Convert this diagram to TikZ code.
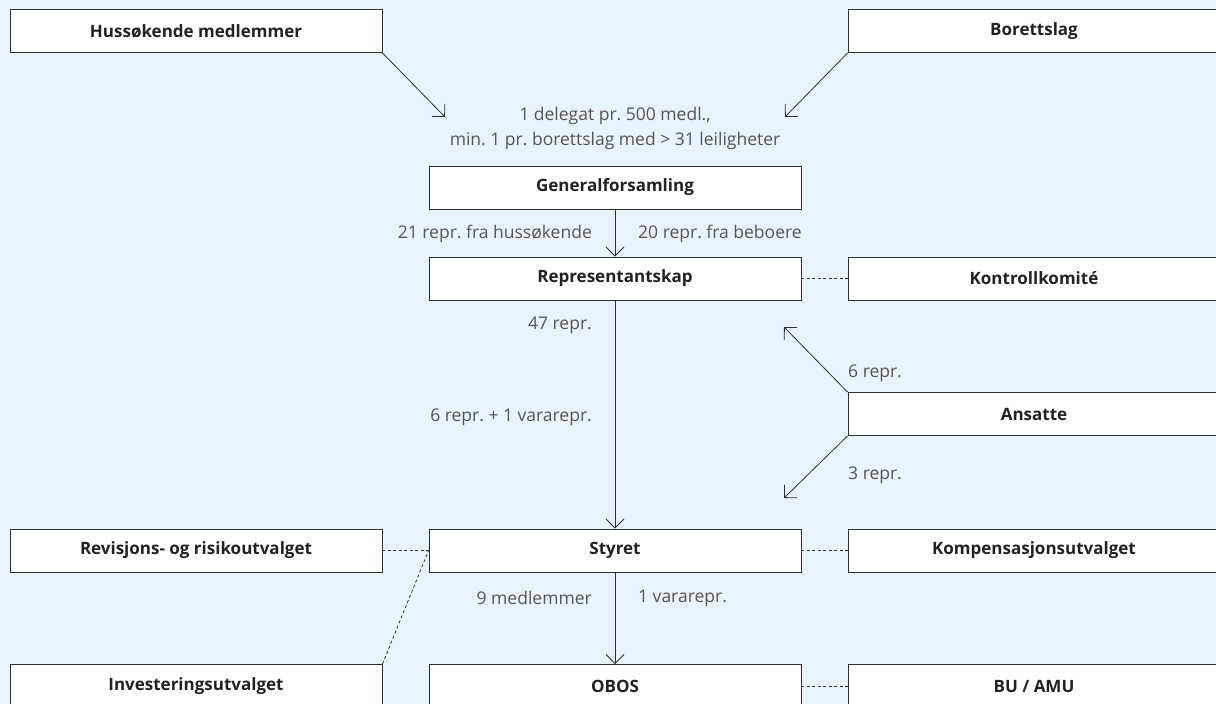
\documentclass[tikz,border=0pt]{standalone}
\usepackage{fontspec}
\setmainfont{Open Sans}
\usepackage{tikz}
\usetikzlibrary{arrows.meta, positioning}
\definecolor{bakgrunn}{RGB}{232, 244, 253}
\definecolor{strek}{RGB}{48, 48, 48}
\definecolor{boksTekst}{RGB}{34, 34, 34}
\definecolor{graaTekst}{RGB}{85, 85, 85}
\frenchspacing
\tikzset{
  boks/.style={rectangle, draw=strek, fill=white, line width=0.9pt,
               minimum width=372pt, minimum height=43pt, inner sep=0pt,
               text=boksTekst, font=\fontsize{17}{20}\selectfont\bfseries},
  etikett/.style={inner sep=0pt, text=graaTekst, font=\fontsize{17.5}{25}\selectfont},
  pil/.style={draw=strek, line width=0.8pt, -{Straight Barb[length=9pt, width=18pt]}},
  stiplet/.style={draw=strek, line width=0.8pt, dash pattern=on 3pt off 2.5pt}
}

\begin{document}
\begin{tikzpicture}[x=1pt, y=-1pt]
  \fill[bakgrunn] (0,0) rectangle (1216,704);
  \useasboundingbox (0,0) rectangle (1216,704);
  \clip (0,0) rectangle (1216,704);

  % medlemmer og borettslag
  \node[boks] (husmed) at (196,31) {Hussøkende medlemmer};
  \node[boks] (borett) at (1034,31) {Borettslag};
  \node[etikett, align=center] (delegat) at (615,128)
    {1 delegat pr. 500 medl.,\\min. 1 pr. borettslag med > 31 leiligheter};

  % hovedlinjen
  \node[boks] (genfors) at (615,187.5) {Generalforsamling};
  \node[boks] (repskap) at (615,278.5) {Representantskap};
  \node[boks] (styret) at (615,550.5) {Styret};
  \node[boks] (obos) at (615,686) {OBOS};

  % sideorganer
  \node[boks] (kontroll) at (1034,278.5) {Kontrollkomit\'{e}};
  \node[boks] (ansatte) at (1034,414) {Ansatte};
  \node[boks] (revisjon) at (196,550.5) {Revisjons- og risikoutvalget};
  \node[boks] (kompens) at (1034,550.5) {Kompensasjonsutvalget};
  \node[boks] (invest) at (196,686) {Investeringsutvalget};
  \node[boks] (buamu) at (1034,686) {BU / AMU};

  % frie pilender
  \coordinate (husmedpil) at (445,117);
  \coordinate (borettpil) at (785,117);
  \coordinate (ansattopp) at (784,327);
  \coordinate (ansattned) at (784,498);

  \draw[pil] (husmed.south east) -- (husmedpil);
  \draw[pil] (borett.south west) -- (borettpil);
  \draw[pil] (genfors) -- (repskap);
  \draw[pil] (repskap) -- (styret);
  \draw[pil] (styret) -- (obos);
  \draw[pil] (ansatte.north west) -- (ansattopp);
  \draw[pil] (ansatte.south west) -- (ansattned);

  \draw[stiplet] (repskap) -- (kontroll);
  \draw[stiplet] (revisjon) -- (styret);
  \draw[stiplet] (styret) -- (kompens);
  \draw[stiplet] (obos) -- (buamu);
  \draw[stiplet] (invest.north east) -- (styret.west);

  % etiketter
  \node[etikett, anchor=east] (hus21) at (592,234) {21 repr. fra huss\o{}kende};
  \node[etikett, anchor=west] (beb20) at (638,234) {20 repr. fra beboere};
  \node[etikett, anchor=east] (rep47) at (592,325) {47 repr.};
  \node[etikett, anchor=east] (rep6) at (592,417) {6 repr. + 1 vararepr.};
  \node[etikett, anchor=west] (ans6) at (848,373) {6 repr.};
  \node[etikett, anchor=west] (ans3) at (848,475) {3 repr.};
  \node[etikett, anchor=east] (med9) at (592,598) {9 medlemmer};
  \node[etikett, anchor=west] (vara1) at (638,598) {1 vararepr.};
\end{tikzpicture}
\end{document}
